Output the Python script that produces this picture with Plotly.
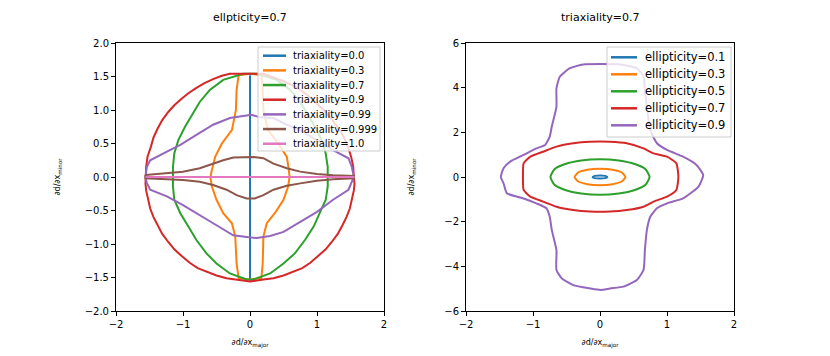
import plotly.graph_objs as go

# colours (matplotlib tab10)
colors = ['#1f77b4', '#ff7f0e', '#2ca02c', '#d62728', '#9467bd', '#8c564b', '#e377c2']

# ---- left panel: ellipticity=0.7, varying triaxiality ----
triax_labels = ['triaxiality=0.0', 'triaxiality=0.3', 'triaxiality=0.7', 'triaxiality=0.9',
                'triaxiality=0.99', 'triaxiality=0.999', 'triaxiality=1.0']

t00_x = [0.0, 0.0]
t00_y = [1.52, -1.55]

t03_x = [-0.17, -0.2, -0.21, -0.27, -0.42, -0.52, -0.57, -0.59, -0.57, -0.5, -0.4, -0.27, -0.22, -0.2, -0.17, 0.0,
         0.17, 0.19, 0.2, 0.25, 0.37, 0.5, 0.57, 0.59, 0.58, 0.55, 0.42, 0.27, 0.2, 0.19, 0.17, 0.0, -0.17]
t03_y = [1.52, 1.3, 1.0, 0.7, 0.5, 0.3, 0.1, 0.0, -0.14, -0.34, -0.54, -0.69, -0.89, -1.29, -1.51, -1.53,
         -1.51, -1.29, -0.89, -0.69, -0.54, -0.34, -0.14, 0.0, 0.1, 0.3, 0.5, 0.7, 1.0, 1.3, 1.52, 1.54, 1.52]

t07_x = [-0.1, -0.4, -0.6, -0.75, -0.85, -0.97, -1.07, -1.13, -1.15, -1.15, -1.15, -1.13, -1.04, -0.92, -0.8, -0.65,
         -0.5, -0.3, -0.05, 0.05, 0.3, 0.5, 0.67, 0.82, 0.95, 1.04, 1.13, 1.16, 1.16, 1.16, 1.13, 1.07, 0.97, 0.85,
         0.75, 0.6, 0.4, 0.1, -0.1]
t07_y = [1.54, 1.45, 1.3, 1.12, 0.95, 0.75, 0.55, 0.35, 0.15, 0.0, -0.14, -0.34, -0.54, -0.74, -0.94, -1.14,
         -1.29, -1.44, -1.53, -1.53, -1.44, -1.29, -1.14, -0.94, -0.74, -0.54, -0.34, -0.14, 0.0, 0.15, 0.35, 0.55,
         0.75, 0.95, 1.12, 1.3, 1.45, 1.54, 1.54]

t09_x = [1.55, 1.54, 1.51, 1.47, 1.42, 1.36, 1.28, 1.2, 1.1, 1.0, 0.9, 0.78, 0.65, 0.5, 0.35, 0.2, -0.3, -0.42,
         -0.55, -0.68, -0.8, -0.92, -1.03, -1.13, -1.22, -1.31, -1.38, -1.44, -1.48, -1.53, -1.55, -1.56, -1.56,
         -1.55, -1.52, -1.49, -1.44, -1.38, -1.31, -1.22, -1.13, -1.02, -0.9, -0.78, -0.64, -0.5, -0.35, -0.2,
         0.0, 0.2, 0.35, 0.5, 0.64, 0.78, 0.9, 1.02, 1.13, 1.22, 1.31, 1.38, 1.44, 1.49, 1.52, 1.55, 1.56, 1.55]
t09_y = [0.0, 0.16, 0.3, 0.43, 0.55, 0.67, 0.78, 0.89, 1.0, 1.1, 1.19, 1.28, 1.36, 1.43, 1.49, 1.54, 1.54, 1.51,
         1.46, 1.4, 1.33, 1.25, 1.16, 1.07, 0.97, 0.85, 0.72, 0.59, 0.45, 0.3, 0.15, 0.0, -0.1,
         -0.2, -0.34, -0.47, -0.6, -0.72, -0.85, -0.97, -1.08, -1.18, -1.28, -1.36, -1.42, -1.47, -1.51, -1.53,
         -1.56, -1.53, -1.51, -1.47, -1.42, -1.36, -1.28, -1.18, -1.08, -0.97, -0.85, -0.72, -0.6, -0.47, -0.34,
         -0.2, -0.1, 0.0]

t099_x = [-1.54, -1.49, -1.24, -1.04, -0.8, -0.55, -0.3, -0.1, 0.02, 0.15, 0.35, 0.55, 0.75, 1.0, 1.24, 1.47,
          1.52, 1.55, 1.47, 1.24, 1.0, 0.75, 0.5, 0.3, 0.1, -0.02, -0.25, -0.5, -0.75, -1.0, -1.24, -1.49, -1.54,
          -1.56, -1.54]
t099_y = [0.15, 0.25, 0.38, 0.48, 0.63, 0.78, 0.88, 0.91, 0.93, 0.89, 0.88, 0.78, 0.7, 0.55, 0.4, 0.28,
          0.15, 0.0, -0.19, -0.34, -0.52, -0.67, -0.82, -0.88, -0.91, -0.9, -0.87, -0.72, -0.57, -0.42, -0.29,
          -0.19, -0.09, 0.0, 0.15]

t0999_x = [-1.56, -1.24, -1.0, -0.75, -0.55, -0.4, -0.25, -0.1, 0.05, 0.2, 0.35, 0.55, 0.75, 1.0, 1.24, 1.55,
           1.55, 1.24, 1.0, 0.75, 0.55, 0.35, 0.2, 0.07, -0.05, -0.2, -0.35, -0.55, -0.75, -1.0, -1.24, -1.56, -1.56]
t0999_y = [0.03, 0.06, 0.08, 0.13, 0.2, 0.25, 0.29, 0.3, 0.3, 0.28, 0.2, 0.13, 0.08, 0.045, 0.025, 0.015,
           -0.02, -0.035, -0.055, -0.095, -0.13, -0.19, -0.27, -0.32, -0.32, -0.27, -0.19, -0.12, -0.07, -0.045,
           -0.03, -0.02, 0.03]

t10_x = [-1.56, 1.56]
t10_y = [0.0, 0.0]

left_x = [t00_x, t03_x, t07_x, t09_x, t099_x, t0999_x, t10_x]
left_y = [t00_y, t03_y, t07_y, t09_y, t099_y, t0999_y, t10_y]

# ---- right panel: triaxiality=0.7, varying ellipticity ----
ell_labels = ['ellipticity=0.1', 'ellipticity=0.3', 'ellipticity=0.5', 'ellipticity=0.7', 'ellipticity=0.9']

e01_x = [0.11, 0.08, 0.0, -0.08, -0.11, -0.08, 0.0, 0.08, 0.11]
e01_y = [0.0, 0.05, 0.07, 0.05, 0.0, -0.05, -0.07, -0.05, 0.0]

e03_x = [0.38, 0.33, 0.19, 0.0, -0.19, -0.33, -0.38, -0.33, -0.19, 0.0, 0.19, 0.33, 0.38]
e03_y = [0.0, 0.19, 0.32, 0.37, 0.32, 0.19, 0.0, -0.19, -0.32, -0.37, -0.32, -0.19, 0.0]

e05_x = [0.74, 0.68, 0.52, 0.28, 0.0, -0.28, -0.52, -0.68, -0.74, -0.68, -0.52, -0.28, 0.0, 0.28, 0.52, 0.68, 0.74]
e05_y = [0.0, 0.35, 0.58, 0.74, 0.8, 0.74, 0.58, 0.35, 0.0, -0.35, -0.58, -0.74, -0.8, -0.74, -0.58, -0.35, 0.0]

e07_x = [-1.15, -1.14, -1.04, -0.85, -0.65, -0.4, -0.15, 0.15, 0.4, 0.65, 0.8, 1.0, 1.14, 1.17, 1.14, 1.0, 0.8,
         0.65, 0.4, 0.15, -0.15, -0.4, -0.65, -0.85, -1.04, -1.14, -1.15]
e07_y = [0.0, 0.61, 0.91, 1.13, 1.36, 1.51, 1.58, 1.58, 1.51, 1.28, 1.06, 0.91, 0.61, 0.0, -0.58, -0.88, -1.1,
         -1.33, -1.48, -1.55, -1.55, -1.48, -1.33, -1.1, -0.88, -0.58, 0.0]

e09_x = [-0.25, -0.45, -0.6, -0.65, -0.65, -0.72, -0.75, -0.82, -0.95, -1.14, -1.34, -1.44, -1.48, -1.44, -1.39,
         -1.14, -0.95, -0.8, -0.75, -0.72, -0.65, -0.65, -0.57, -0.4, -0.15, 0.01, 0.15, 0.35, 0.55, 0.65, 0.67,
         0.7, 0.75, 0.85, 1.0, 1.24, 1.47, 1.54, 1.44, 1.24, 1.0, 0.85, 0.75, 0.7, 0.67, 0.65, 0.55, 0.3, -0.25]
e09_y = [5.04, 4.87, 4.49, 3.97, 3.15, 2.25, 1.81, 1.43, 1.28, 0.99, 0.69, 0.39, 0.0, -0.28, -0.73,
         -0.96, -1.18, -1.4, -1.78, -2.37, -3.27, -4.16, -4.54, -4.84, -4.99, -5.06, -4.99, -4.91, -4.61, -4.16,
         -3.27, -2.37, -1.78, -1.4, -1.18, -0.96, -0.43, 0.09, 0.54, 0.91, 1.21, 1.51, 2.1, 3.15, 3.9, 4.49, 4.87,
         5.04, 5.04]

right_x = [e01_x, e03_x, e05_x, e07_x, e09_x]
right_y = [e01_y, e03_y, e05_y, e07_y, e09_y]

fig = go.Figure()
for i, name in enumerate(triax_labels):
    fig.add_trace(go.Scatter(x=left_x[i], y=left_y[i], mode='lines', name=name, showlegend=False,
                             line=dict(color=colors[i], width=2), xaxis='x', yaxis='y'))
for i, name in enumerate(ell_labels):
    fig.add_trace(go.Scatter(x=right_x[i], y=right_y[i], mode='lines', name=name, showlegend=False,
                             line=dict(color=colors[i], width=2, shape='spline', smoothing=0.5),
                             xaxis='x2', yaxis='y2'))

# the page is offset by the browser's 8px body margin; plot area sits at screen x 116-734, y 43-311
def px(sx):
    return (sx - 116) / 618.0

def py(sy):
    return (311 - sy) / 268.0

# matplotlib-style legends drawn as a framed box with short line handles
shapes = []
annotations = []

def add_legend(labels, box, row0, step, handle, text_x, fsize):
    x0, x1, y0, y1 = box
    shapes.append(dict(type='rect', xref='paper', yref='paper', x0=px(x0), x1=px(x1), y0=py(y1), y1=py(y0),
                       fillcolor='rgba(255,255,255,0.8)', line=dict(color='#cccccc', width=1)))
    for i, lab in enumerate(labels):
        ry = row0 + step * i
        shapes.append(dict(type='line', xref='paper', yref='paper', x0=px(handle[0]), x1=px(handle[1]),
                           y0=py(ry), y1=py(ry), line=dict(color=colors[i], width=2.5)))
        annotations.append(dict(text=lab, x=px(text_x), y=py(ry), xref='paper', yref='paper', showarrow=False,
                                xanchor='left', yanchor='middle', font=dict(size=fsize, color='black')))

add_legend(triax_labels, (258, 380, 47, 151), 55.7, 14.67, (263, 286), 291, 10)
add_legend(ell_labels, (607, 731, 47, 137), 57.3, 17.0, (611, 637), 643, 11.5)

annotations.append(dict(text='ellpticity=0.7', x=px(250), y=py(17), xref='paper', yref='paper', showarrow=False,
                        font=dict(size=11), xanchor='center', yanchor='middle'))
annotations.append(dict(text='triaxiality=0.7', x=px(600), y=py(17), xref='paper', yref='paper', showarrow=False,
                        font=dict(size=11), xanchor='center', yanchor='middle'))

axis_style = dict(showgrid=False, zeroline=False, showline=True, mirror=True, linecolor='black', linewidth=1,
                  ticks='outside', ticklen=4, tickcolor='black', tickfont=dict(size=10, color='black'),
                  automargin=False)

fig.update_layout(
    width=830, height=356,
    margin=dict(l=108, r=104, t=35, b=53),
    paper_bgcolor='white', plot_bgcolor='white',
    font=dict(family='DejaVu Sans', color='black'),
    showlegend=False,
    xaxis=dict(domain=[0, 268 / 618.0], range=[-2, 2], dtick=1, anchor='y',
               title=dict(text='∂d/∂x<sub>major</sub>', font=dict(size=8), standoff=10), **axis_style),
    yaxis=dict(domain=[0, 1], range=[-2, 2], dtick=0.5, tickformat='.1f', anchor='x',
               title=dict(text='∂d/∂x<sub>minor</sub>', font=dict(size=8), standoff=22), **axis_style),
    xaxis2=dict(domain=[350 / 618.0, 1], range=[-2, 2], dtick=1, anchor='y2',
                title=dict(text='∂d/∂x<sub>major</sub>', font=dict(size=8), standoff=10), **axis_style),
    yaxis2=dict(domain=[0, 1], range=[-6, 6], dtick=2, anchor='x2',
                title=dict(text='∂d/∂x<sub>minor</sub>', font=dict(size=8), standoff=28), **axis_style),
    shapes=shapes,
    annotations=annotations,
)

fig.write_html("out.html")
